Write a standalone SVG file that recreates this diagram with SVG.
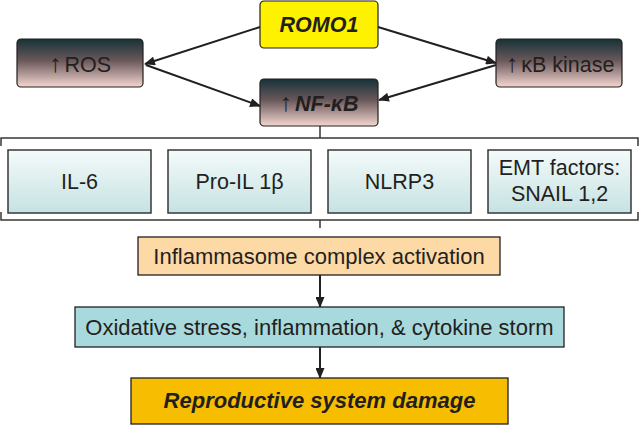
<svg xmlns="http://www.w3.org/2000/svg" width="639" height="426" viewBox="0 0 639 426">
<defs>
<linearGradient id="dk" x1="0" y1="0" x2="0" y2="1">
<stop offset="0" stop-color="#163238"/>
<stop offset="0.45" stop-color="#6a585a"/>
<stop offset="1" stop-color="#f4d6d0"/>
</linearGradient>
<linearGradient id="lt" x1="0" y1="0" x2="0" y2="1">
<stop offset="0" stop-color="#f4fafa"/>
<stop offset="1" stop-color="#c6e2e2"/>
</linearGradient>
<marker id="ah" viewBox="0 0 12 10" refX="11" refY="5" markerWidth="12" markerHeight="9" markerUnits="userSpaceOnUse" orient="auto">
<path d="M0,0 L12,5 L0,10 Z" fill="#231f20"/>
</marker>
</defs>
<style>
text{font-family:"Liberation Sans",Arial,sans-serif;fill:#231f20;text-anchor:middle}
.t{font-size:21.5px}
.ar{font-size:25px}
.bi{font-size:21.5px;font-weight:bold;font-style:italic}
.dk{fill:url(#dk);stroke:#231f20;stroke-width:1.2}
.lt{fill:url(#lt);stroke:#3a3636;stroke-width:1.5}
.sq{stroke:#231f20;stroke-width:1.3}
.ln{stroke:#231f20;stroke-width:2;fill:none}
.br{stroke:#3a3636;stroke-width:1.5;fill:none}
</style>
<rect width="639" height="426" fill="#ffffff"/>
<g id="connectors">
<line class="ln" x1="260" y1="27" x2="145" y2="64" marker-end="url(#ah)"/>
<line class="ln" x1="146" y1="65" x2="260" y2="106" marker-end="url(#ah)"/>
<line class="ln" x1="378" y1="27" x2="496" y2="63" marker-end="url(#ah)"/>
<line class="ln" x1="496" y1="65" x2="379" y2="100" marker-end="url(#ah)"/>
<line class="br" x1="320" y1="126" x2="320" y2="138"/>
<path class="br" d="M1,146 V138 H638 V146"/>
<path class="br" d="M1,212 V220 H638 V212"/>
<line class="br" x1="320" y1="220" x2="320" y2="228"/>
<line class="ln" x1="320" y1="275" x2="320" y2="307" marker-end="url(#ah)"/>
<line class="ln" x1="320" y1="347" x2="320" y2="378" marker-end="url(#ah)"/>
</g>
<g id="romo1">
<rect x="260" y="1" width="118" height="47" rx="4" fill="#fff200" stroke="#231f20" stroke-width="1.2"/>
<text class="bi" x="319" y="32">ROMO1</text>
</g>
<g id="ros">
<rect class="dk" x="17" y="39" width="126" height="48" rx="4"/>
<text x="80" y="72"><tspan class="ar">↑</tspan><tspan class="t" dx="3">ROS</tspan></text>
</g>
<g id="kinase">
<rect class="dk" x="496" y="39" width="126" height="48" rx="4"/>
<text x="560" y="72"><tspan class="ar">↑</tspan><tspan class="t" dx="3">κB kinase</tspan></text>
</g>
<g id="nfkb">
<rect class="dk" x="260" y="79" width="118" height="47" rx="4"/>
<text x="319" y="111"><tspan class="ar">↑</tspan><tspan class="bi" dx="3">NF-κB</tspan></text>
</g>
<g id="il6">
<rect class="lt" x="8" y="150" width="143" height="63"/>
<text class="t" x="79.5" y="189">IL-6</text>
</g>
<g id="proil">
<rect class="lt" x="168" y="150" width="143" height="63"/>
<text class="t" x="239.5" y="189">Pro-IL 1β</text>
</g>
<g id="nlrp3">
<rect class="lt" x="328" y="150" width="143" height="63"/>
<text class="t" x="399.5" y="189">NLRP3</text>
</g>
<g id="emt">
<rect class="lt" x="488" y="150" width="143" height="63"/>
<text class="t" x="559.5" y="175">EMT factors:</text>
<text class="t" x="559.5" y="201">SNAIL 1,2</text>
</g>
<g id="inflammasome">
<rect class="sq" x="138" y="237" width="362" height="38" fill="#fdd9a6"/>
<text class="t" x="319" y="264" style="font-size:22px">Inflammasome complex activation</text>
</g>
<g id="oxidative">
<rect class="sq" x="75" y="307" width="489" height="40" fill="#a8d9dd"/>
<text class="t" x="319.5" y="335" style="font-size:22px">Oxidative stress, inflammation, &amp; cytokine storm</text>
</g>
<g id="reproductive">
<rect class="sq" x="131" y="378" width="377" height="46" fill="#f7bd00"/>
<text class="bi" x="319.5" y="408" style="font-size:22px">Reproductive system damage</text>
</g>
</svg>
